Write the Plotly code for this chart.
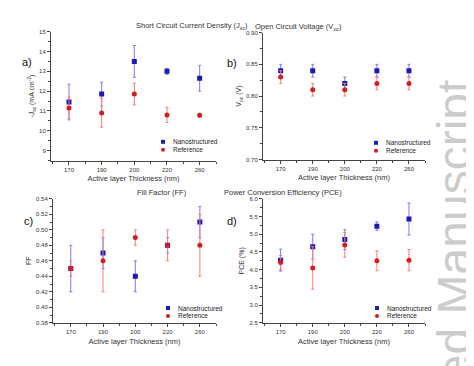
import plotly.graph_objects as go

thickness = ["170", "190", "200", "220", "260"]

jsc_nano = [11.45, 11.85, 13.5, 13.0, 12.65]
jsc_nano_err = [0.9, 0.6, 0.8, 0.15, 0.65]
jsc_ref = [11.15, 10.9, 11.85, 10.8, 10.78]
jsc_ref_err = [0.55, 0.72, 0.55, 0.38, 0.1]

voc_nano = [0.84, 0.84, 0.82, 0.84, 0.84]
voc_nano_err = [0.01, 0.01, 0.01, 0.01, 0.01]
voc_ref = [0.83, 0.81, 0.81, 0.82, 0.82]
voc_ref_err = [0.01, 0.01, 0.01, 0.01, 0.01]

ff_nano = [0.45, 0.47, 0.44, 0.48, 0.51]
ff_nano_err = [0.03, 0.02, 0.02, 0.01, 0.02]
ff_ref = [0.45, 0.46, 0.49, 0.48, 0.48]
ff_ref_err = [0.01, 0.04, 0.01, 0.02, 0.04]

pce_nano = [4.27, 4.65, 4.85, 5.23, 5.43]
pce_nano_err = [0.31, 0.35, 0.28, 0.12, 0.45]
pce_ref = [4.2, 4.05, 4.7, 4.25, 4.27]
pce_ref_err = [0.2, 0.6, 0.35, 0.28, 0.3]

series_names = ["Nanostructured", "Reference"]
titles = ["Short Circuit Current Density (J<sub>sc</sub>)", "Open Circuit Voltage (V<sub>oc</sub>)",
          "Fill Factor (FF)", "Power Conversion Efficiency (PCE)"]
ytitles = ["-J<sub>sc</sub> (mA cm<sup>-2</sup>)", "V<sub>oc</sub> (V)", "FF", "PCE (%)"]
panel_labels = ["a)", "b)", "c)", "d)"]
xtitle = "Active layer Thickness (nm)"

W, H = 474, 366
FONT = "Arial, Liberation Sans, sans-serif"
BLUE, RED = "#1a1ab4", "#d21e1e"
BLUE_E, RED_E = "#7a7aff", "#ff7a7a"

xpos = list(range(len(thickness)))

# panel geometry in pixels: (x0, x1, ytop, ybottom)
panels = [(43, 208, 21, 152), (255, 417, 22, 151), (45, 208, 191, 317), (255, 417, 191, 317)]
legend_pos = [(155, 133), (368, 134), (160, 302), (369, 302)]
yranges = [[8.5, 15], [0.70, 0.90], [0.38, 0.54], [2.5, 6.0]]
ydticks = [1, 0.05, 0.02, 0.5]
yfmt = [".0f", ".2f", ".2f", ".1f"]
data = [
    (jsc_nano, jsc_nano_err, jsc_ref, jsc_ref_err),
    (voc_nano, voc_nano_err, voc_ref, voc_ref_err),
    (ff_nano, ff_nano_err, ff_ref, ff_ref_err),
    (pce_nano, pce_nano_err, pce_ref, pce_ref_err),
]

fig = go.Figure()
annotations = []
shapes = []
layout = {}
for i, ((x0, x1, yt, yb), (n, ne, r, re)) in enumerate(zip(panels, data)):
    k = "" if i == 0 else str(i + 1)
    fig.add_trace(go.Scatter(
        x=xpos, y=n, mode="markers", name=series_names[0], showlegend=False,
        marker=dict(symbol="square", size=5, color=BLUE),
        error_y=dict(type="data", array=ne, color=BLUE_E, thickness=1, width=1.5),
        xaxis="x" + k, yaxis="y" + k))
    fig.add_trace(go.Scatter(
        x=xpos, y=r, mode="markers", name=series_names[1], showlegend=False,
        marker=dict(symbol="circle", size=5, color=RED),
        error_y=dict(type="data", array=re, color=RED_E, thickness=1, width=1.5),
        xaxis="x" + k, yaxis="y" + k))
    axcommon = dict(showline=True, linecolor="#444", linewidth=1, ticks="outside",
                    ticklen=3, tickcolor="#444", showgrid=False, zeroline=False,
                    tickfont=dict(size=6, color="#333", family=FONT))
    layout["xaxis" + k] = dict(
        domain=[x0 / W, x1 / W], anchor="y" + k, range=[-0.55, 4.5],
        tickmode="array", tickvals=xpos, ticktext=thickness,
        minor=dict(ticks="outside", ticklen=2, tickcolor="#444", dtick=0.5, tick0=0.5),
        title=dict(text=xtitle, font=dict(size=7.5, color="#333", family=FONT), standoff=4),
        **axcommon)
    layout["yaxis" + k] = dict(
        domain=[1 - yb / H, 1 - yt / H], anchor="x" + k, range=yranges[i],
        dtick=ydticks[i], tick0=0, tickformat=yfmt[i],
        minor=dict(ticks="outside", ticklen=2, tickcolor="#444", dtick=ydticks[i] / 2),
        title=dict(text=ytitles[i], font=dict(size=7, color="#333", family=FONT), standoff=3),
        **axcommon)
    # legend (manual)
    lx, ly = legend_pos[i]
    shapes.append(dict(type="rect", xref="paper", yref="paper",
                       x0=(lx - 2) / W, x1=(lx + 2) / W, y0=1 - (ly + 2) / H, y1=1 - (ly - 2) / H,
                       fillcolor=BLUE, line=dict(width=0)))
    shapes.append(dict(type="circle", xref="paper", yref="paper",
                       x0=(lx - 2) / W, x1=(lx + 2) / W, y0=1 - (ly + 10) / H, y1=1 - (ly + 6) / H,
                       fillcolor=RED, line=dict(width=0)))
    for j, name in enumerate(series_names):
        annotations.append(dict(text=name, x=(lx + 8) / W, y=1 - (ly + 8 * j) / H,
                                xref="paper", yref="paper", xanchor="left", yanchor="middle",
                                showarrow=False, font=dict(size=6.5, color="#222", family=FONT)))
    annotations.append(dict(text=titles[i], x=(x0 + x1) / 2 / W, y=1 - (yt - 6) / H,
                            xref="paper", yref="paper", showarrow=False, yanchor="middle",
                            font=dict(size=7.5, color="#333", family=FONT)))
    annotations.append(dict(text=panel_labels[i], x=(x0 - 31) / W, y=1 - (yt + 23) / H,
                            xref="paper", yref="paper", showarrow=False,
                            font=dict(size=11, color="#111", family=FONT)))

annotations.append(dict(text="Accepted Manuscript", textangle=-90, x=447 / W, y=1 - 68 / H,
                        xref="paper", yref="paper", xanchor="center", yanchor="top",
                        showarrow=False, font=dict(size=48, color="#cccccc", family=FONT)))

fig.update_layout(width=W, height=H, margin=dict(l=0, r=0, t=0, b=0),
                  paper_bgcolor="white", plot_bgcolor="white", showlegend=False,
                  annotations=annotations, shapes=shapes, **layout)
fig.write_html("out.html")
